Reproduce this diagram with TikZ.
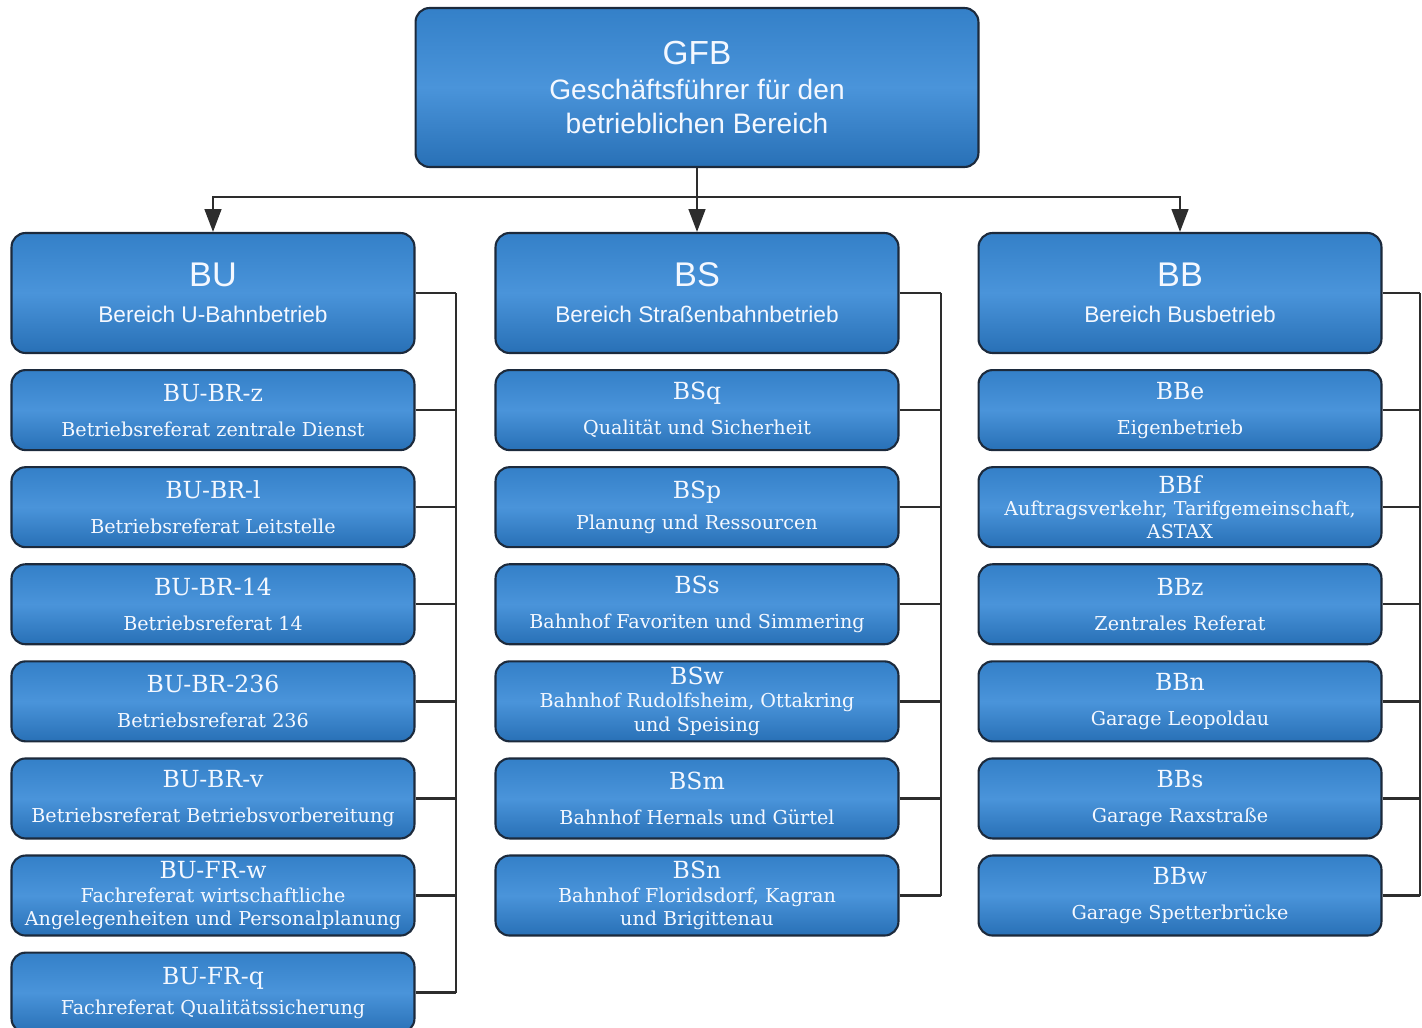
\documentclass[tikz,border=0pt]{standalone}
\usepackage{fontspec}
\setsansfont{Liberation Sans}
\newfontfamily\unitfont{DejaVu Serif}
\usetikzlibrary{%
  arrows.meta,
  positioning
}

\definecolor{boxtop}{RGB}{52,128,200}
\definecolor{boxmid}{RGB}{74,148,218}
\definecolor{boxbot}{RGB}{40,112,182}
\definecolor{boxline}{RGB}{28,42,60}
\definecolor{lineclr}{RGB}{45,45,45}
\definecolor{txtclr}{RGB}{244,248,255}

\newcommand{\headtxt}[2]{\fontsize{19.5}{20}\selectfont #1\\#2}
\newcommand{\unittxt}[2]{\fontsize{13.4}{16}\selectfont #1\\#2}

\tikzset{
  box/.style={draw=boxline, line width=1.2pt, rounded corners=0.28cm,
    top color=boxtop, bottom color=boxbot, middle color=boxmid,
    text=txtclr, align=center, inner sep=0pt},
  head/.style={box, minimum width=8.06cm, minimum height=2.4cm,
    font=\sffamily\fontsize{12.9}{20.5}\selectfont},
  unit/.style={box, minimum width=8.06cm, minimum height=1.6cm,
    font=\unitfont\fontsize{10.9}{19.9}\selectfont},
  tight/.style={font=\unitfont\fontsize{10.9}{13.4}\selectfont},
  conn/.style={draw=lineclr, line width=1.3pt},
  arr/.style={conn, -{Triangle[width=9.5pt,length=13pt]}}
}

\begin{document}
\begin{tikzpicture}[x=0.02cm, y=-0.02cm, node distance=0.3cm]
    \useasboundingbox (0,0) rectangle (1422,1027);

    \node[head, minimum width=11.26cm, minimum height=3.18cm,
      font=\sffamily\fontsize{16}{19.5}\selectfont] (gfb) at (697,87.5)
      {\fontsize{19}{20}\selectfont GFB\\Geschäftsführer für den\\betrieblichen Bereich};

    \node[head] (bu) at (213,293) {\headtxt{BU}{Bereich U-Bahnbetrieb}};
    \node[head] (bs) at (697,293) {\headtxt{BS}{Bereich Straßenbahnbetrieb}};
    \node[head] (bb) at (1180,293) {\headtxt{BB}{Bereich Busbetrieb}};

    % U-Bahn
    \node[unit, below=of bu] (bu1) {\unittxt{BU-BR-z}{Betriebsreferat zentrale Dienst}};
    \node[unit, below=of bu1] (bu2) {\unittxt{BU-BR-l}{Betriebsreferat Leitstelle}};
    \node[unit, below=of bu2] (bu3) {\unittxt{BU-BR-14}{Betriebsreferat 14}};
    \node[unit, below=of bu3] (bu4) {\unittxt{BU-BR-236}{Betriebsreferat 236}};
    \node[unit, below=of bu4] (bu5) {\unittxt{BU-BR-v}{Betriebsreferat Betriebsvorbereitung}};
    \node[unit, tight, below=of bu5] (bu6) {\unittxt{BU-FR-w}{Fachreferat wirtschaftliche\\Angelegenheiten und Personalplanung}};
    \node[unit, below=of bu6, font=\unitfont\fontsize{10.9}{17}\selectfont] (bu7) {\unittxt{BU-FR-q}{Fachreferat Qualitätssicherung}};

    % Strassenbahn
    \node[unit, below=of bs] (bs1) {\unittxt{BSq}{Qualität und Sicherheit}};
    \node[unit, below=of bs1, font=\unitfont\fontsize{10.9}{17.5}\selectfont] (bs2) {\unittxt{BSp}{Planung und Ressourcen}};
    \node[unit, below=of bs2] (bs3) {\unittxt{BSs}{Bahnhof Favoriten und Simmering}};
    \node[unit, tight, below=of bs3] (bs4) {\unittxt{BSw}{Bahnhof Rudolfsheim, Ottakring\\und Speising}};
    \node[unit, below=of bs4] (bs5) {\unittxt{BSm}{Bahnhof Hernals und Gürtel}};
    \node[unit, tight, below=of bs5] (bs6) {\unittxt{BSn}{Bahnhof Floridsdorf, Kagran\\und Brigittenau}};

    % Bus
    \node[unit, below=of bb] (bb1) {\unittxt{BBe}{Eigenbetrieb}};
    \node[unit, below=of bb1, font=\unitfont\fontsize{10.9}{12.6}\selectfont] (bb2) {\unittxt{BBf}{Auftragsverkehr, Tarifgemeinschaft,\\ASTAX}};
    \node[unit, below=of bb2] (bb3) {\unittxt{BBz}{Zentrales Referat}};
    \node[unit, below=of bb3] (bb4) {\unittxt{BBn}{Garage Leopoldau}};
    \node[unit, below=of bb4] (bb5) {\unittxt{BBs}{Garage Raxstraße}};
    \node[unit, below=of bb5] (bb6) {\unittxt{BBw}{Garage Spetterbrücke}};

    \coordinate (bus) at (697,197);
    \coordinate (bux) at (456,0);
    \coordinate (bsx) at (941,0);
    \coordinate (bbx) at (1420,0);

    \draw[arr] (gfb.south) -- (bs.north);
    \draw[arr] (bus) -| (bu.north);
    \draw[arr] (bus) -| (bb.north);

    \foreach \n in {bu,bu1,bu2,bu3,bu4,bu5,bu6,bu7}
      \draw[conn] (\n.east) -- (\n.east -| bux);
    \draw[conn] (bu.east -| bux) -- (bu7.east -| bux);

    \foreach \n in {bs,bs1,bs2,bs3,bs4,bs5,bs6}
      \draw[conn] (\n.east) -- (\n.east -| bsx);
    \draw[conn] (bs.east -| bsx) -- (bs6.east -| bsx);

    \foreach \n in {bb,bb1,bb2,bb3,bb4,bb5,bb6}
      \draw[conn] (\n.east) -- (\n.east -| bbx);
    \draw[conn] (bb.east -| bbx) -- (bb6.east -| bbx);

\end{tikzpicture}
\end{document}
